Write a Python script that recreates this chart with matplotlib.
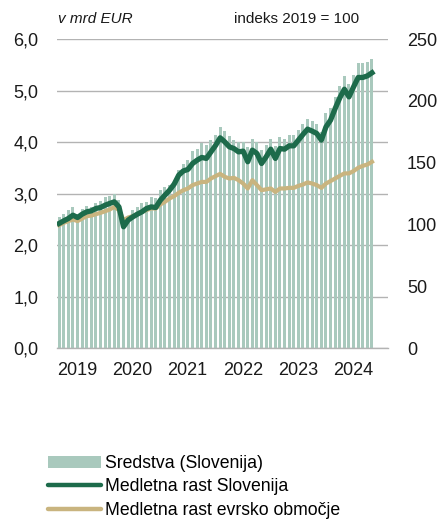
"""Sredstva (Slovenija) in medletna rast, indeks 2019 = 100."""
import matplotlib
matplotlib.use("Agg")
import matplotlib.pyplot as plt
from matplotlib.lines import Line2D
from matplotlib.patches import Patch
import numpy as np

plt.rcParams["font.family"] = ["Liberation Sans", "DejaVu Sans"]

BAR = "#a9c9bd"
GREEN = "#1d6b4b"
BEIGE = "#c9b47f"
GRID = "#b3b3b3"
INK = "#1a1a1a"

# monthly, Jan 2019 - Sep 2024
assets_si = [
    2.54, 2.60, 2.68, 2.74, 2.61, 2.71, 2.77, 2.74, 2.81, 2.86, 2.93, 2.95,
    2.99, 2.87, 2.36, 2.50, 2.68, 2.74, 2.82, 2.84, 2.93, 2.91, 3.07, 3.12,
    3.17, 3.25, 3.46, 3.57, 3.65, 3.82, 3.87, 3.99, 3.95, 4.05, 4.14, 4.30,
    4.21, 4.12, 4.04, 4.01, 4.01, 3.90, 4.07, 4.01, 3.85, 3.95, 4.07, 3.92,
    4.10, 4.07, 4.14, 4.14, 4.23, 4.36, 4.45, 4.41, 4.36, 4.20, 4.56, 4.67,
    4.88, 5.09, 5.29, 5.12, 5.30, 5.54, 5.53, 5.56, 5.62,
]
index_si = [
    100.9, 103.0, 104.9, 107.6, 105.7, 108.4, 110.3, 111.1, 113.0, 113.8, 115.7, 117.1,
    118.4, 114.3, 98.2, 103.6, 106.2, 108.4, 110.3, 113.0, 114.3, 113.8, 119.7, 123.8,
    127.8, 132.7, 140.0, 143.4, 144.6, 149.4, 152.1, 154.3, 153.5, 158.8, 164.0, 170.2,
    166.9, 162.9, 161.5, 158.8, 159.4, 150.8, 160.2, 157.5, 149.4, 154.8, 161.0, 153.5,
    161.5, 161.0, 163.7, 163.7, 168.3, 172.9, 177.2, 175.6, 173.7, 168.3, 179.0, 184.5,
    193.9, 202.5, 209.5, 203.3, 211.4, 219.0, 219.0, 220.3, 222.8,
]
index_ea = [
    99.5, 101.4, 102.8, 104.1, 102.8, 104.9, 106.8, 107.3, 108.4, 109.5, 110.8, 112.2,
    114.3, 111.7, 103.6, 105.7, 106.8, 108.4, 110.3, 111.7, 113.0, 113.0, 116.3, 118.4,
    121.1, 123.0, 125.7, 127.8, 129.2, 131.9, 133.2, 134.5, 134.5, 137.3, 139.2, 141.0,
    138.6, 137.3, 137.8, 135.9, 133.2, 129.2, 135.9, 131.9, 127.8, 128.5, 129.2, 126.4,
    129.2, 129.2, 129.7, 129.7, 131.3, 132.4, 134.1, 133.2, 131.9, 129.7, 133.2, 135.2,
    137.3, 139.4, 141.4, 141.4, 143.3, 145.9, 147.5, 148.6, 150.8,
]
years = ["2019", "2020", "2021", "2022", "2023", "2024"]
left_ticks = [0, 1, 2, 3, 4, 5, 6]
right_ticks = [0, 50, 100, 150, 200, 250]

fig = plt.figure(figsize=(4.39, 5.22), dpi=100)
ax = fig.add_axes([0.130, 0.333, 0.754, 0.592])
x = np.arange(len(assets_si))

ax.bar(x, assets_si, width=0.66, color=BAR, zorder=2)
ax.set_xlim(-0.45, 71.5)
ax.set_ylim(0, 6)
ax.set_yticks(left_ticks)
ax.set_yticklabels([f"{v},0" for v in left_ticks])
ax.set_xticks([12 * i + 3.9 for i in range(len(years))])
ax.set_xticklabels(years)
ax.yaxis.grid(True, color=GRID, lw=1.0, zorder=0)
ax.set_axisbelow(True)
for s in ["top", "right", "left"]:
    ax.spines[s].set_visible(False)
ax.spines["bottom"].set_color(GRID)
ax.spines["bottom"].set_linewidth(1.0)
ax.tick_params(length=0, labelsize=13, colors=INK)
ax.tick_params(axis="x", pad=10)
ax.tick_params(axis="y", pad=13.5)

ax2 = ax.twinx()
ax2.plot(x, index_ea, color=BEIGE, lw=3.0, solid_joinstyle="round", zorder=3)
ax2.plot(x, index_si, color=GREEN, lw=3.8, solid_joinstyle="round", zorder=4)
ax2.set_ylim(0, 250)
ax2.set_yticks(right_ticks)
for s in ["top", "right", "left", "bottom"]:
    ax2.spines[s].set_visible(False)
ax2.tick_params(length=0, labelsize=13, colors=INK, pad=13.5)

fig.text(0.133, 0.963, "v mrd EUR", fontsize=11, style="italic", color=INK,
         va="center")
fig.text(0.532, 0.963, "indeks 2019 = 100", fontsize=11, color=INK, va="center")

handles = [
    Patch(facecolor=BAR, edgecolor="none"),
    Line2D([], [], color=GREEN, lw=3.2, solid_capstyle="round"),
    Line2D([], [], color=BEIGE, lw=3.2, solid_capstyle="round"),
]
labels = ["Sredstva (Slovenija)", "Medletna rast Slovenija",
          "Medletna rast evrsko območje"]
fig.legend(handles, labels, loc="upper left", bbox_to_anchor=(0.093, 0.142),
           frameon=False, fontsize=12.7, handlelength=3.0, handleheight=0.65,
           handletextpad=0.25, labelspacing=0.37, borderaxespad=0)

fig.savefig("out.png", dpi=100)
